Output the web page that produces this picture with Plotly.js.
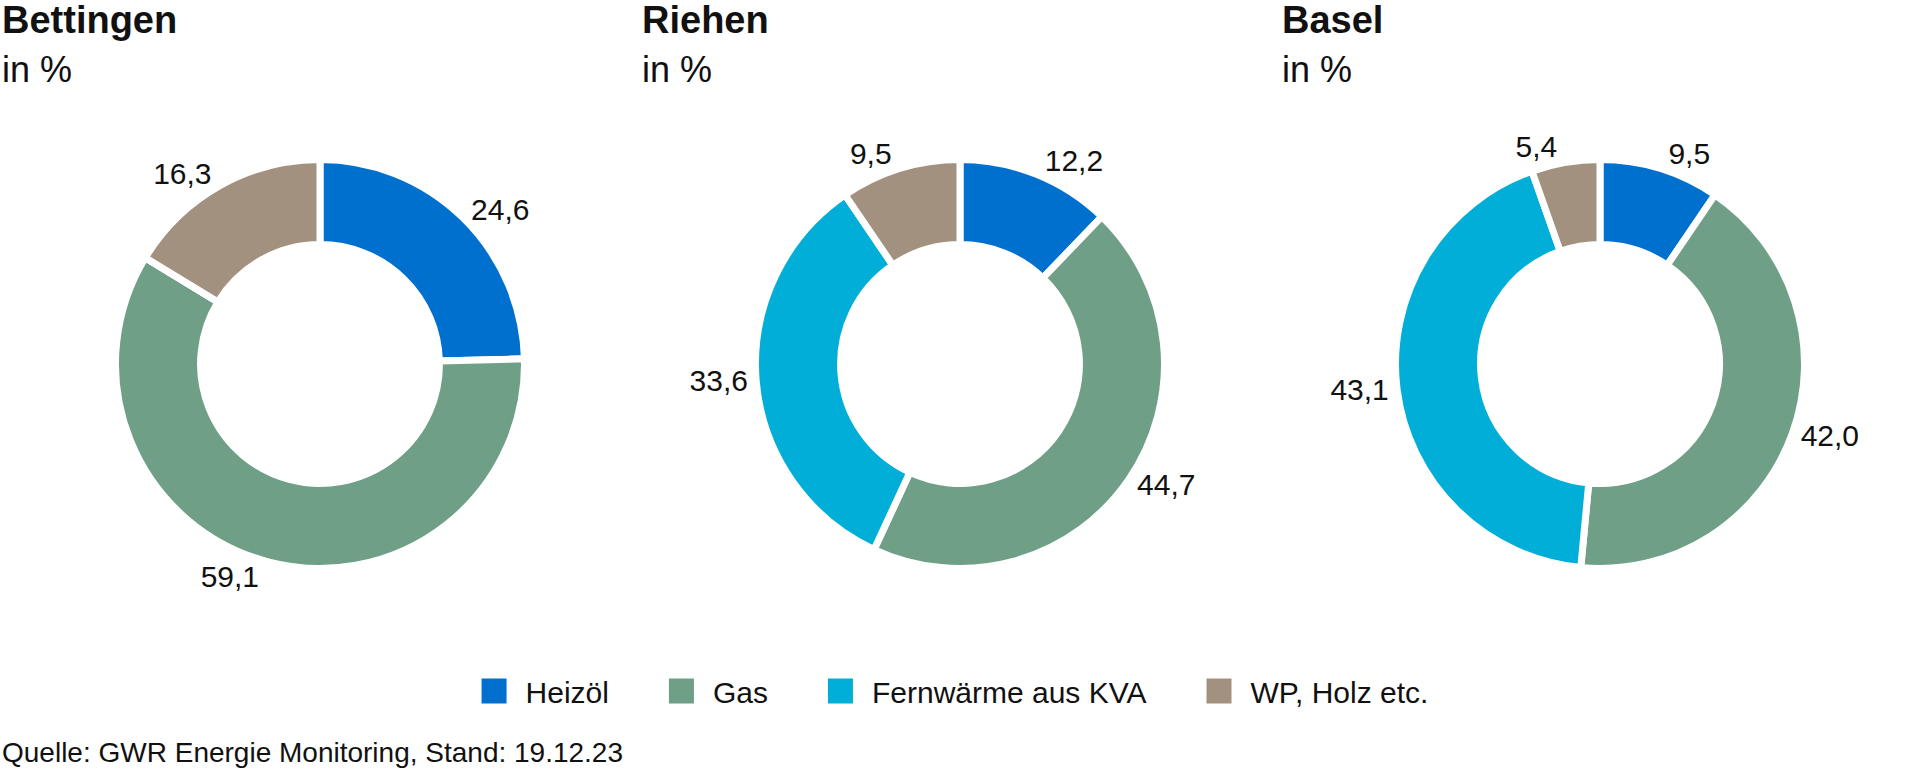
<!DOCTYPE html>
<html>
<head>
<meta charset="utf-8">
<script src="https://cdn.plot.ly/plotly-3.0.1.min.js"></script>
<style>
  html, body { margin: 0; padding: 0; background: #ffffff; }
  #chart { width: 1920px; height: 772px; }
  .legend .legendpie {
    transform: translate(67.5px, 0px) scale(2.0833) !important;
    stroke-width: 0 !important;
  }
</style>
</head>
<body>
<div id="chart"></div>
<script>
// ---- data ----
const regions = ['Bettingen', 'Riehen', 'Basel'];
const unitLabel = 'in %';
const categories = ['Heizöl', 'Gas', 'Fernwärme aus KVA', 'WP, Holz etc.'];
const bettingenValues = [24.6, 59.1, 0, 16.3];
const riehenValues = [12.2, 44.7, 33.6, 9.5];
const baselValues = [9.5, 42.0, 43.1, 5.4];
const categoryColors = ['#0070CF', '#6F9F86', '#00AED7', '#A39180'];
const sourceText = 'Quelle: GWR Energie Monitoring, Stand: 19.12.23';

// ---- layout helpers ----
const W = 1920, H = 772;
const FONT = '"Liberation Sans", Arial, Helvetica, sans-serif';
const centersX = [320, 960, 1600];
const centerY = 364;
const R = 204.5;

const seriesValues = [bettingenValues, riehenValues, baselValues];

const traces = seriesValues.map((vals, i) => ({
  type: 'pie',
  labels: categories,
  values: vals,
  sort: false,
  direction: 'clockwise',
  rotation: 0,
  hole: 0.584,
  marker: { colors: categoryColors, line: { color: '#ffffff', width: 7 } },
  texttemplate: vals.map(v => (v > 0 ? '%{value:.1f}' : '')),
  textposition: 'outside',
  textfont: { family: FONT, size: 30, color: '#111111' },
  hoverinfo: 'none',
  domain: {
    x: [(centersX[i] - R) / W, (centersX[i] + R) / W],
    y: [1 - (centerY + R) / H, 1 - (centerY - R) / H]
  },
  showlegend: true
}));

const annotations = [];
const titleX = [0, 640, 1280];
regions.forEach((name, i) => {
  annotations.push({
    text: '<b>' + name + '</b>', x: titleX[i] / W, y: 1 - 20 / H,
    xref: 'paper', yref: 'paper', xanchor: 'left', yanchor: 'middle',
    showarrow: false, font: { family: FONT, size: 38, color: '#111111' }
  });
  annotations.push({
    text: unitLabel, x: titleX[i] / W, y: 1 - 70 / H,
    xref: 'paper', yref: 'paper', xanchor: 'left', yanchor: 'middle',
    showarrow: false, font: { family: FONT, size: 36, color: '#111111' }
  });
});
annotations.push({
  text: sourceText, x: 0, y: 1 - 752 / H,
  xref: 'paper', yref: 'paper', xanchor: 'left', yanchor: 'middle',
  showarrow: false, font: { family: FONT, size: 28, color: '#111111' }
});

const layout = {
  width: W, height: H,
  margin: { l: 0, r: 0, t: 0, b: 0 },
  paper_bgcolor: '#ffffff',
  separators: ',.',
  font: { family: FONT, color: '#111111' },
  showlegend: true,
  legend: {
    orientation: 'h',
    x: 0.4844, xanchor: 'center',
    y: 1 - 691 / H, yanchor: 'middle',
    font: { family: FONT, size: 30, color: '#111111' },
    itemwidth: 89,
    itemclick: false, itemdoubleclick: false
  },
  annotations: annotations,
  hovermode: false
};

Plotly.newPlot('chart', traces, layout, { displayModeBar: false });
</script>
</body>
</html>
